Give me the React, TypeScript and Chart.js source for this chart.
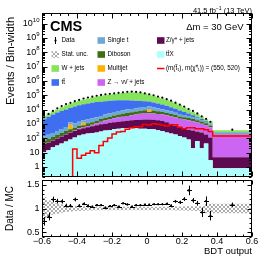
import { useEffect, useRef } from "react";
import { Chart, registerables } from "chart.js";
Chart.register(...registerables);

const FONT = '"Liberation Sans", Arial, Helvetica, sans-serif';

const BIN_EDGES = [-0.6, -0.575, -0.55, -0.525, -0.5, -0.475, -0.45, -0.425, -0.4, -0.375, -0.35, -0.325, -0.3, -0.275, -0.25, -0.225, -0.2, -0.175, -0.15, -0.125, -0.1, -0.075, -0.05, -0.025, 0, 0.025, 0.05, 0.075, 0.1, 0.125, 0.15, 0.175, 0.2, 0.225, 0.25, 0.275, 0.3, 0.325, 0.35, 0.375, 0.6];

const TTX = [10.7, 14.6, 23.4, 32, 44, 60, 83, 113, 156, 182, 213, 231, 250, 292, 342, 370, 433, 469, 508, 524, 508, 492, 469, 455, 433, 433, 370, 316, 250, 213, 182, 144, 113, 83, 20, 65, 20, 44, 3, 0.8];
const ZGAMMA = [30, 37, 47, 65, 89, 122, 167, 203, 278, 326, 381, 464, 565, 661, 690, 838, 874, 946, 1023, 1133, 1283, 1387, 1472, 1546, 1599, 1508, 1421, 1265, 1057, 819, 571, 405, 356, 318, 322, 227, 230, 138, 110, 4];
const ZNUNU = [1.3, 1.6, 2.3, 4.7, 8.7, 15, 24, 37, 67, 96, 135, 186, 250, 462, 678, 858, 1149, 1462, 1682, 1988, 2283, 2739, 3214, 3847, 3376, 3467, 3209, 2969, 2702, 2333, 2034, 1721, 1563, 1390, 1189, 976, 782, 633, 481, 177];
const DIBOSON = [28.7, 36, 50, 66, 89.5, 119, 159, 196, 253, 211, 370, 448, 539, 784, 950, 1096, 1364, 1741, 1942, 2203, 2461, 2677, 2862, 3106, 1442, 3262, 2762, 2300, 1839, 1635, 1343, 1095, 940, 786, 668, 523, 427, 302, 182, 25];
const MULTIJET = [0, 0, 0, 0, 0, 0, 448, 0, 0, 393, 0, 0, 0, 0, 0, 0, 0, 0, 0, 0, 0, 0, 0, 0, 2834, 0, 0, 0, 0, 0, 0, 0, 0, 0, 0, 0, 0, 0, 0, 0];
const SINGLE_T = [62, 84, 115, 158, 217, 298, 426, 516, 662, 583, 1000, 1206, 1368, 1333, 1958, 2423, 2925, 3399, 3799, 4152, 4455, 4975, 5693, 6116, 6616, 5260, 4508, 3800, 3106, 2413, 2002, 1635, 1298, 1068, 816, 629, 420, 254, 149, 51];
const TTBAR = [1966, 2938, 4380, 6000, 7570, 9550, 11570, 15240, 18300, 21650, 24920, 27600, 30220, 32360, 34200, 35720, 36600, 37480, 36550, 34060, 31670, 29030, 26380, 23750, 20170, 17690, 14750, 11690, 9246, 7177, 5218, 3670, 2580, 1763, 1059, 552, 288, 160, 107, 12];
const WJETS = [1546, 2043, 2795, 4005, 6573, 9840, 13300, 16890, 21580, 27260, 33370, 40490, 48280, 56580, 64480, 72200, 81350, 89400, 100400, 111440, 117740, 116800, 108210, 91880, 75130, 60850, 48320, 38050, 30200, 23610, 17410, 12320, 7980, 4922, 2989, 1870, 1151, 667, 475, 100];
const SIGNAL = [0, 0, 0, 0, 0, 0, 0, 17.9, 4.1, 6.6, 9.1, 13.5, 9.8, 32, 60, 105, 197, 270, 292, 420, 550, 643, 640, 925, 841, 1030, 953, 841, 718, 881, 870, 594, 469, 550, 545, 470, 465, 401, 292, 144];
const DATA = [2877, 5000, 8020, 12270, 17650, 24200, 29700, 38800, 46900, 59400, 69500, 80100, 92400, 104900, 117000, 126700, 137000, 148300, 160400, 173600, 179100, 170900, 160400, 137000, 117000, 100000, 81500, 67400, 53200, 42000, 30600, 22300, 16300, 11000, 8020, 5410, 3370, 2270, 1415, 401];
const RATIO = [0.73, 0.83, 1.19, 1.155, 1.15, 1.06, 1.06, 1.19, 1.06, 1.10, 1.06, 1.04, 1.07, 1.07, 1.02, 1.05, 1.07, 1.04, 1.11, 1.085, 1.04, 1.07, 1.07, 1.08, 1.08, 1.09, 1.09, 1.09, 1.10, 1.06, 1.15, 1.13, 1.20, 1.38, 1.17, 1.11, 0.92, 1.155, 0.85, 1.08];
const RATIO_ERR = [0.09, 0.08, 0.06, 0.05, 0.045, 0.04, 0.035, 0.04, 0.03, 0.03, 0.025, 0.02, 0.02, 0.02, 0.02, 0.02, 0.02, 0.02, 0.02, 0.02, 0.02, 0.02, 0.02, 0.02, 0.02, 0.02, 0.02, 0.02, 0.025, 0.025, 0.03, 0.035, 0.04, 0.1, 0.05, 0.05, 0.1, 0.1, 0.1, 0.045];
const STAT_UNC = [0.24, 0.17, 0.13, 0.11, 0.09, 0.075, 0.065, 0.055, 0.05, 0.045, 0.04, 0.04, 0.035, 0.035, 0.035, 0.035, 0.035, 0.035, 0.035, 0.035, 0.035, 0.035, 0.035, 0.035, 0.035, 0.035, 0.035, 0.035, 0.035, 0.035, 0.04, 0.04, 0.04, 0.045, 0.045, 0.05, 0.05, 0.1, 0.1, 0.1];

const Y_TICK_POWERS = [0, 1, 2, 3, 4, 5, 6, 7, 8, 9, 10];
const X_TICKS = [-0.6, -0.4, -0.2, 0, 0.2, 0.4, 0.6];
const X_TICK_LABELS = ["\u22120.6", "\u22120.4", "\u22120.2", "0", "0.2", "0.4", "0.6"];
const R_TICKS = [0.5, 1, 1.5];
const R_TICK_LABELS = ["0.5", "1", "1.5"];

const Y_MIN = 0.2;
const Y_MAX = 5e10;
const R_MIN = 0.4;
const R_MAX = 1.6;

const COLORS = {
  ttx: "#b0ffff",
  zgamma: "#5e0a50",
  znunu: "#cc66f2",
  diboson: "#3d6e14",
  multijet: "#ffb200",
  singlet: "#6ea8d6",
  ttbar: "#3f6ef0",
  wjets: "#86e35c",
  signal: "#ff0000",
};

const centers = BIN_EDGES.slice(0, -1).map((e, i) => (e + BIN_EDGES[i + 1]) / 2);

function stepPoints(vals: number[]) {
  const pts = vals.map((v, i) => ({ x: BIN_EDGES[i], y: v }));
  pts.push({ x: BIN_EDGES[vals.length], y: vals[vals.length - 1] });
  return pts;
}

function makeHatch(): CanvasPattern | string {
  const c = document.createElement("canvas");
  c.width = 4;
  c.height = 4;
  const g = c.getContext("2d");
  if (!g) return "#bbb";
  g.strokeStyle = "rgba(90,90,90,0.85)";
  g.lineWidth = 0.6;
  g.beginPath();
  g.moveTo(0, 4); g.lineTo(4, 0);
  g.moveTo(0, 0); g.lineTo(4, 4);
  g.stroke();
  return g.createPattern(c, "repeat") || "#bbb";
}

function drawFrameAndTicks(chart: any, xMajor: number[], xMinor: number[], yMajor: number[], yMinor: number[], majLen: number, minLen: number) {
  const { ctx, chartArea } = chart;
  const xs = chart.scales.x;
  const ys = chart.scales.y;
  const L = Math.floor(chartArea.left) + 0.5;
  const R = Math.floor(chartArea.right) - 0.5;
  const T = Math.floor(chartArea.top) + 0.5;
  const B = Math.floor(chartArea.bottom) - 0.5;
  ctx.save();
  ctx.strokeStyle = "#000";
  ctx.lineWidth = 1;
  ctx.strokeRect(L, T, R - L, B - T);
  ctx.beginPath();
  const vx = (v: number, len: number) => {
    const p = Math.round(xs.getPixelForValue(v)) + 0.5;
    ctx.moveTo(p, B); ctx.lineTo(p, B - len);
    ctx.moveTo(p, T); ctx.lineTo(p, T + len);
  };
  const vy = (v: number, len: number) => {
    const p = Math.round(ys.getPixelForValue(v)) + 0.5;
    ctx.moveTo(L, p); ctx.lineTo(L + len, p);
    ctx.moveTo(R, p); ctx.lineTo(R - len, p);
  };
  xMajor.forEach((v) => vx(v, majLen));
  xMinor.forEach((v) => vx(v, minLen));
  yMajor.forEach((v) => vy(v, majLen));
  yMinor.forEach((v) => vy(v, minLen));
  ctx.stroke();
  ctx.restore();
}

function xMinorTicks() {
  const out: number[] = [];
  for (let k = -12; k <= 12; k++) {
    const v = k * 0.05;
    if (Math.abs(k % 4) !== 0) out.push(v);
  }
  return out;
}

function logTicks() {
  const maj: number[] = [];
  const min: number[] = [];
  for (let p = -1; p <= 11; p++) {
    const base = Math.pow(10, p);
    if (base >= Y_MIN && base <= Y_MAX) maj.push(base);
    for (let m = 2; m <= 9; m++) {
      const v = m * base;
      if (v >= Y_MIN && v <= Y_MAX) min.push(v);
    }
  }
  return { maj, min };
}

function box(ctx: CanvasRenderingContext2D, x: number, y: number, color: any) {
  ctx.fillStyle = color;
  ctx.fillRect(x, y - 3.3, 7.5, 6.6);
}

const mainPlugin = {
  id: "mainDecor",
  afterDraw(chart: any) {
    const { ctx } = chart;
    const ys = chart.scales.y;
    const lt = logTicks();
    drawFrameAndTicks(chart, X_TICKS, xMinorTicks(), lt.maj, lt.min, 5, 2.5);
    ctx.save();
    ctx.fillStyle = "#000";
    Y_TICK_POWERS.forEach((p) => {
      const y = ys.getPixelForValue(Math.pow(10, p));
      const xr = 39.5;
      ctx.textBaseline = "middle";
      if (p === 0 || p === 1) {
        ctx.font = `9px ${FONT}`;
        ctx.textAlign = "right";
        ctx.fillText(p === 0 ? "1" : "10", xr, y);
      } else {
        const exp = String(p);
        ctx.font = `6px ${FONT}`;
        const ew = ctx.measureText(exp).width;
        ctx.textAlign = "left";
        ctx.fillText(exp, xr - ew, y - 3.5);
        ctx.font = `9px ${FONT}`;
        ctx.textAlign = "right";
        ctx.fillText("10", xr - ew, y);
      }
    });
    ctx.save();
    ctx.translate(10.5, 17);
    ctx.rotate(-Math.PI / 2);
    ctx.font = `11px ${FONT}`;
    ctx.textAlign = "right";
    ctx.textBaseline = "middle";
    ctx.fillText("Events / Bin-width", 0, 0);
    ctx.restore();
    ctx.font = `bold 14.5px ${FONT}`;
    ctx.textAlign = "left";
    ctx.textBaseline = "alphabetic";
    ctx.fillText("CMS", 50, 30.5);
    ctx.font = `7.5px ${FONT}`;
    const tail = " (13 TeV)";
    const w3 = ctx.measureText(tail).width;
    ctx.font = `5px ${FONT}`;
    const w2 = ctx.measureText("\u22121").width;
    ctx.fillText("\u22121", 252 - w3 - w2, 9.5);
    ctx.font = `7.5px ${FONT}`;
    ctx.textAlign = "right";
    ctx.fillText("41.5 fb", 252 - w3 - w2, 12.5);
    ctx.textAlign = "left";
    ctx.fillText(tail, 252 - w3, 12.5);
    ctx.font = `9.5px ${FONT}`;
    ctx.textAlign = "right";
    ctx.fillText("\u0394m = 30 GeV", 243.5, 29.5);
    const rows = [40.5, 54.5, 68.5, 82.5];
    const c1b = 51.5, c1t = 61.5, c2b = 97.5, c2t = 107.5, c3b = 157, c3t = 166;
    ctx.font = `6.3px ${FONT}`;
    ctx.textAlign = "left";
    ctx.textBaseline = "middle";
    ctx.fillStyle = "#000";
    ctx.beginPath();
    ctx.arc(55.5, rows[0], 1.1, 0, Math.PI * 2);
    ctx.fill();
    ctx.fillRect(55, rows[0] - 3.5, 1, 7);
    ctx.fillText("Data", c1t, rows[0]);
    box(ctx, c2b, rows[0], COLORS.singlet);
    ctx.fillStyle = "#000";
    ctx.fillText("Single t", c2t, rows[0]);
    box(ctx, c3b, rows[0], COLORS.zgamma);
    ctx.fillStyle = "#000";
    ctx.fillText("Z/\u03b3* + jets", c3t, rows[0]);
    box(ctx, c1b, rows[1], makeHatch());
    ctx.fillStyle = "#000";
    ctx.fillText("Stat. unc.", c1t, rows[1]);
    box(ctx, c2b, rows[1], COLORS.diboson);
    ctx.fillStyle = "#000";
    ctx.fillText("Diboson", c2t, rows[1]);
    box(ctx, c3b, rows[1], COLORS.ttx);
    ctx.fillStyle = "#000";
    ctx.fillText("tt\u0304X", c3t, rows[1]);
    box(ctx, c1b, rows[2], COLORS.wjets);
    ctx.fillStyle = "#000";
    ctx.fillText("W + jets", c1t, rows[2]);
    box(ctx, c2b, rows[2], COLORS.multijet);
    ctx.fillStyle = "#000";
    ctx.fillText("Multijet", c2t, rows[2]);
    ctx.fillStyle = COLORS.signal;
    ctx.fillRect(c3b, rows[2] - 0.75, 7.5, 1.5);
    ctx.fillStyle = "#000";
    ctx.fillText("(m(t\u0303\u2081), m(\u03c7\u0303\u2070\u2081)) = (550, 520)", c3t, rows[2]);
    box(ctx, c1b, rows[3], COLORS.ttbar);
    ctx.fillStyle = "#000";
    ctx.fillText("tt\u0304", c1t, rows[3]);
    box(ctx, c2b, rows[3], COLORS.znunu);
    ctx.fillStyle = "#000";
    ctx.fillText("Z \u2192 \u03bd\u03bd\u0304 + jets", c2t, rows[3]);
    ctx.restore();
  },
};

const ratioPlugin = {
  id: "ratioDecor",
  afterDatasetsDraw(chart: any) {
    const { ctx, chartArea } = chart;
    const xs = chart.scales.x;
    const ys = chart.scales.y;
    ctx.save();
    ctx.beginPath();
    ctx.rect(chartArea.left, chartArea.top, chartArea.right - chartArea.left, chartArea.bottom - chartArea.top);
    ctx.clip();
    ctx.strokeStyle = "#000";
    ctx.lineWidth = 1;
    ctx.beginPath();
    centers.forEach((c, i) => {
      const x = Math.round(xs.getPixelForValue(c)) + 0.5;
      const y = ys.getPixelForValue(RATIO[i]);
      ctx.moveTo(x, ys.getPixelForValue(RATIO[i] - RATIO_ERR[i]));
      ctx.lineTo(x, ys.getPixelForValue(RATIO[i] + RATIO_ERR[i]));
      ctx.moveTo(x - 2.5, Math.round(y) + 0.5);
      ctx.lineTo(x + 2.5, Math.round(y) + 0.5);
    });
    ctx.stroke();
    ctx.restore();
  },
  afterDraw(chart: any) {
    const { ctx } = chart;
    const xs = chart.scales.x;
    const ys = chart.scales.y;
    const rMinor: number[] = [];
    for (let k = 4; k <= 16; k++) if (k % 5 !== 0) rMinor.push(k / 10);
    drawFrameAndTicks(chart, X_TICKS, xMinorTicks(), R_TICKS, rMinor, 4, 2);
    ctx.save();
    ctx.fillStyle = "#000";
    ctx.font = `9px ${FONT}`;
    ctx.textBaseline = "middle";
    ctx.textAlign = "center";
    X_TICKS.forEach((v, i) => {
      ctx.fillText(X_TICK_LABELS[i], xs.getPixelForValue(v), 66.5);
    });
    ctx.textAlign = "right";
    R_TICKS.forEach((v, i) => {
      ctx.fillText(R_TICK_LABELS[i], 39.5, ys.getPixelForValue(v));
    });
    ctx.font = `9.5px ${FONT}`;
    ctx.textAlign = "right";
    ctx.fillText("BDT output", 252, 76);
    ctx.save();
    ctx.translate(10.5, 33.5);
    ctx.rotate(-Math.PI / 2);
    ctx.font = `10px ${FONT}`;
    ctx.textAlign = "center";
    ctx.textBaseline = "middle";
    ctx.fillText("Data / MC", 0, 0);
    ctx.restore();
    ctx.restore();
  },
};

function mainConfig(): any {
  const layers = [
    { vals: TTX, color: COLORS.ttx },
    { vals: ZGAMMA, color: COLORS.zgamma },
    { vals: ZNUNU, color: COLORS.znunu },
    { vals: DIBOSON, color: COLORS.diboson },
    { vals: MULTIJET, color: COLORS.multijet },
    { vals: SINGLE_T, color: COLORS.singlet },
    { vals: TTBAR, color: COLORS.ttbar },
    { vals: WJETS, color: COLORS.wjets },
  ];
  let cum = new Array(TTX.length).fill(0);
  const stackSets = layers.map((l, k) => {
    cum = cum.map((c, i) => c + l.vals[i]);
    return {
      type: "line",
      data: stepPoints(cum.map((v) => Math.max(v, Y_MIN))),
      stepped: "before",
      fill: k === 0 ? "start" : "-1",
      backgroundColor: l.color,
      borderColor: "transparent",
      borderWidth: 0,
      pointRadius: 0,
      order: 10 + k,
    };
  });
  return {
    type: "line",
    data: {
      datasets: [
        {
          type: "line",
          data: centers.map((x, i) => ({ x, y: DATA[i] })),
          showLine: false,
          pointRadius: 1.1,
          pointBackgroundColor: "#000",
          pointBorderWidth: 0,
          order: 0,
        },
        {
          type: "line",
          data: stepPoints(SIGNAL.map((v) => Math.max(v, Y_MIN))),
          stepped: "before",
          borderColor: COLORS.signal,
          borderWidth: 1.5,
          pointRadius: 0,
          fill: false,
          order: 1,
        },
        ...stackSets,
      ],
    },
    options: {
      animation: false,
      responsive: false,
      devicePixelRatio: 1,
      layout: { padding: { left: 42, right: 14, top: 13.5, bottom: 1 } },
      plugins: { legend: { display: false }, tooltip: { enabled: false } },
      scales: {
        x: { type: "linear", min: -0.6, max: 0.6, display: false },
        y: { type: "logarithmic", min: Y_MIN, max: Y_MAX, display: false },
      },
      elements: { line: { tension: 0 } },
    },
    plugins: [mainPlugin],
  };
}

function ratioConfig(): any {
  const hatch = makeHatch();
  return {
    type: "line",
    data: {
      datasets: [
        {
          type: "line",
          data: centers.map((x, i) => ({ x, y: RATIO[i] })),
          showLine: false,
          pointRadius: 1.1,
          pointBackgroundColor: "#000",
          pointBorderWidth: 0,
          order: 0,
        },
        {
          type: "line",
          data: stepPoints(STAT_UNC.map((u) => 1 + u)),
          stepped: "before",
          borderColor: "transparent",
          borderWidth: 0,
          pointRadius: 0,
          fill: false,
          order: 5,
        },
        {
          type: "line",
          data: stepPoints(STAT_UNC.map((u) => 1 - u)),
          stepped: "before",
          borderColor: "transparent",
          borderWidth: 0,
          pointRadius: 0,
          fill: "-1",
          backgroundColor: hatch,
          order: 6,
        },
      ],
    },
    options: {
      animation: false,
      responsive: false,
      devicePixelRatio: 1,
      layout: { padding: { left: 42, right: 14, top: 5, bottom: 21 } },
      plugins: { legend: { display: false }, tooltip: { enabled: false } },
      scales: {
        x: { type: "linear", min: -0.6, max: 0.6, display: false },
        y: { type: "linear", min: R_MIN, max: R_MAX, display: false },
      },
      elements: { line: { tension: 0 } },
    },
    plugins: [ratioPlugin],
  };
}

export default function App() {
  const mainRef = useRef<HTMLCanvasElement>(null);
  const ratioRef = useRef<HTMLCanvasElement>(null);
  useEffect(() => {
    const c1 = new Chart(mainRef.current as HTMLCanvasElement, mainConfig());
    const c2 = new Chart(ratioRef.current as HTMLCanvasElement, ratioConfig());
    return () => {
      c1.destroy();
      c2.destroy();
    };
  }, []);
  return (
    <div style={{ position: "fixed", left: 0, top: 0, width: 266, height: 258, background: "#fff" }}>
      <canvas ref={mainRef} width={266} height={181} style={{ position: "absolute", left: 0, top: 0 }} />
      <canvas ref={ratioRef} width={266} height={83} style={{ position: "absolute", left: 0, top: 175 }} />
    </div>
  );
}
